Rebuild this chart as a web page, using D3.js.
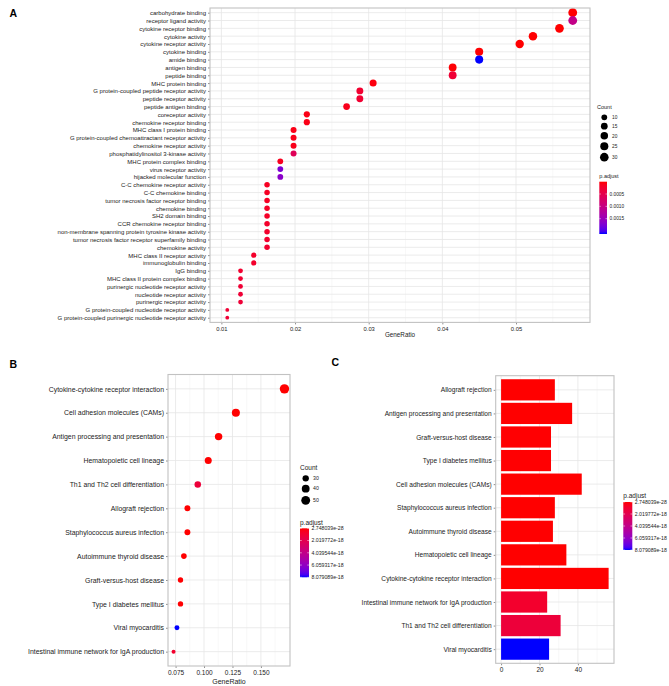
<!DOCTYPE html>
<html>
<head>
<meta charset="utf-8">
<script src="https://cdn.jsdelivr.net/npm/d3@7"></script>
<style>
  body { margin: 0; background: #fff; }
  text { font-family: "Liberation Sans", Arial, sans-serif; fill: #222; }
</style>
</head>
<body>
<div id="chart"></div>
<script>
// ---- panel A : GO enrichment ----
const goTerms = [
  "carbohydrate binding", "receptor ligand activity", "cytokine receptor binding",
  "cytokine activity", "cytokine receptor activity", "cytokine binding", "amide binding",
  "antigen binding", "peptide binding", "MHC protein binding",
  "G protein-coupled peptide receptor activity", "peptide receptor activity",
  "peptide antigen binding", "coreceptor activity", "chemokine receptor binding",
  "MHC class I protein binding", "G protein-coupled chemoattractant receptor activity",
  "chemokine receptor activity", "phosphatidylinositol 3-kinase activity",
  "MHC protein complex binding", "virus receptor activity", "hijacked molecular function",
  "C-C chemokine receptor activity", "C-C chemokine binding",
  "tumor necrosis factor receptor binding", "chemokine binding", "SH2 domain binding",
  "CCR chemokine receptor binding", "non-membrane spanning protein tyrosine kinase activity",
  "tumor necrosis factor receptor superfamily binding", "chemokine activity",
  "MHC class II receptor activity", "immunoglobulin binding", "IgG binding",
  "MHC class II protein complex binding", "purinergic nucleotide receptor activity",
  "nucleotide receptor activity", "purinergic receptor activity",
  "G protein-coupled nucleotide receptor activity",
  "G protein-coupled purinergic nucleotide receptor activity"
];
const goRatio = [
  0.0577, 0.0577, 0.0559, 0.0523, 0.0505, 0.0450, 0.0450, 0.0414, 0.0414, 0.0306,
  0.0288, 0.0288, 0.0270, 0.0216, 0.0216, 0.0198, 0.0198, 0.0198, 0.0198, 0.0180,
  0.0180, 0.0180, 0.0162, 0.0162, 0.0162, 0.0162, 0.0162, 0.0162, 0.0162, 0.0162,
  0.0162, 0.0144, 0.0144, 0.0126, 0.0126, 0.0126, 0.0126, 0.0126, 0.0108, 0.0108
];
const goCount = [
  32, 32, 31, 29, 28, 25, 25, 23, 23, 17,
  16, 16, 15, 12, 12, 11, 11, 11, 11, 10,
  10, 10, 9, 9, 9, 9, 9, 9, 9, 9,
  9, 8, 8, 7, 7, 7, 7, 7, 6, 6
];
const goPadj = [
  0.0000012, 0.00105, 0.000002, 0.000003, 0.000005, 0.000008, 0.00212, 0.00002, 0.00030, 0.00005,
  0.00026, 0.00028, 0.00012, 0.00008, 0.00009, 0.00009, 0.00010, 0.00011, 0.00060, 0.00014,
  0.00175, 0.00165, 0.00016, 0.00017, 0.00018, 0.00019, 0.00020, 0.00022, 0.00024, 0.00025,
  0.00026, 0.00022, 0.00023, 0.00026, 0.00028, 0.00030, 0.00031, 0.00032, 0.00029, 0.00030
];
const goXTicks = [0.01, 0.02, 0.03, 0.04, 0.05];
const goXMinor = [0.015, 0.025, 0.035, 0.045, 0.055];
const goSizeTicks = [10, 15, 20, 25, 30];
const goColorTicks = [0.0005, 0.0010, 0.0015];

// ---- panel B : KEGG dot plot ----
const keggTerms = [
  "Cytokine-cytokine receptor interaction", "Cell adhesion molecules (CAMs)",
  "Antigen processing and presentation", "Hematopoietic cell lineage",
  "Th1 and Th2 cell differentiation", "Allograft rejection",
  "Staphylococcus aureus infection", "Autoimmune thyroid disease",
  "Graft-versus-host disease", "Type I diabetes mellitus", "Viral myocarditis",
  "Intestinal immune network for IgA production"
];
const keggRatio = [0.1707, 0.1280, 0.1128, 0.1037, 0.0945, 0.0854, 0.0854, 0.0823, 0.0793, 0.0793, 0.0762, 0.0732];
const keggCount = [56, 42, 37, 34, 31, 28, 28, 27, 26, 26, 25, 24];
const keggPadj = [
  2.748039e-28, 1.0e-26, 5.0e-24, 2.0e-22, 1.3e-18, 3.0e-21,
  4.0e-21, 8.0e-21, 2.0e-20, 3.0e-20, 8.079089e-18, 0.9e-18
];
const keggXTicks = [0.075, 0.100, 0.125, 0.150];
const keggXMinor = [0.0875, 0.1125, 0.1375, 0.1625];
const keggSizeTicks = [30, 40, 50];
const keggColorTicks = [2.748039e-28, 2.019772e-18, 4.039544e-18, 6.059317e-18, 8.079089e-18];

// ---- panel C : KEGG bar plot (same terms, other order) ----
const barTerms = [
  "Allograft rejection", "Antigen processing and presentation", "Graft-versus-host disease",
  "Type I diabetes mellitus", "Cell adhesion molecules (CAMs)", "Staphylococcus aureus infection",
  "Autoimmune thyroid disease", "Hematopoietic cell lineage",
  "Cytokine-cytokine receptor interaction", "Intestinal immune network for IgA production",
  "Th1 and Th2 cell differentiation", "Viral myocarditis"
];
const barXTicks = [0, 20, 40];
const barXMinor = [10, 30, 50];

const W = 669, H = 686;
const gridMajor = "#e6e6e6", gridMinor = "#f3f3f3", borderCol = "#c2c2c2";

const svg = d3.select("#chart").append("svg")
  .attr("width", W).attr("height", H)
  .style("background", "#fff");

function colorScale(dom) {
  return d3.scaleLinear().domain(dom).range(["#ff0000", "#0000ff"]).interpolate(d3.interpolateLab);
}
// ggplot-like area scale: radius grows with sqrt of rescaled value
function sizeScale(dom, range) {
  const n = d3.scaleLinear().domain(dom).range([0, 1]).clamp(true);
  return v => range[0] + (range[1] - range[0]) * Math.sqrt(n(v));
}
function expand(ext, f) {
  const d = (ext[1] - ext[0]) * f;
  return [ext[0] - d, ext[1] + d];
}

function frame(g, box, x, y, terms, xTicks, xMinor, fmt, opt) {
  g.append("g").selectAll("line.minor").data(xMinor.filter(v => x(v) > box.x0 && x(v) < box.x1))
    .join("line").attr("x1", d => x(d)).attr("x2", d => x(d))
    .attr("y1", box.y0).attr("y2", box.y1).attr("stroke", gridMinor).attr("stroke-width", 0.6);
  g.append("g").selectAll("line.maj").data(xTicks)
    .join("line").attr("x1", d => x(d)).attr("x2", d => x(d))
    .attr("y1", box.y0).attr("y2", box.y1).attr("stroke", gridMajor).attr("stroke-width", 0.8);
  g.append("g").selectAll("line.row").data(terms)
    .join("line").attr("x1", box.x0).attr("x2", box.x1)
    .attr("y1", d => y(d)).attr("y2", d => y(d)).attr("stroke", gridMajor).attr("stroke-width", 0.8);

  // y axis labels
  const ya = g.append("g").attr("transform", `translate(${box.x0},0)`)
    .call(d3.axisLeft(y).tickSize(2).tickPadding(2));
  ya.select(".domain").remove();
  ya.selectAll(".tick line").attr("stroke", "#444").attr("stroke-width", 0.6);
  ya.selectAll(".tick text").attr("font-size", opt.labelSize).attr("fill", "#222");

  // x axis
  const xa = g.append("g").attr("transform", `translate(0,${box.y1})`)
    .call(d3.axisBottom(x).tickValues(xTicks).tickFormat(fmt).tickSize(2).tickPadding(2));
  xa.select(".domain").remove();
  xa.selectAll(".tick line").attr("stroke", "#444").attr("stroke-width", 0.6);
  xa.selectAll(".tick text").attr("font-size", opt.tickSize).attr("fill", "#333");

  if (opt.xTitle) {
    g.append("text").attr("x", (box.x0 + box.x1) / 2).attr("y", opt.xTitleY)
      .attr("text-anchor", "middle").attr("font-size", opt.xTitleSize).text(opt.xTitle);
  }
}

function border(g, box) {
  g.append("rect").attr("x", box.x0).attr("y", box.y0)
    .attr("width", box.x1 - box.x0).attr("height", box.y1 - box.y0)
    .attr("fill", "none").attr("stroke", borderCol).attr("stroke-width", 1.1);
}

function colorBar(g, id, color, ticks, fmt, lg) {
  const dom = color.domain();
  const grad = svg.append("defs").append("linearGradient").attr("id", id)
    .attr("x1", 0).attr("x2", 0).attr("y1", 0).attr("y2", 1);
  d3.range(0, 1.0001, 0.05).forEach(t => {
    grad.append("stop").attr("offset", t).attr("stop-color", color(dom[0] + t * (dom[1] - dom[0])));
  });
  g.append("text").attr("x", lg.x).attr("y", lg.titleY).attr("font-size", lg.titleSize).text("p.adjust");
  g.append("rect").attr("x", lg.x).attr("y", lg.y0).attr("width", lg.w).attr("height", lg.y1 - lg.y0)
    .attr("fill", `url(#${id})`);
  const ys = d3.scaleLinear().domain(dom).range([lg.y0, lg.y1]);
  ticks.forEach(v => {
    const yy = ys(v);
    g.append("line").attr("x1", lg.x).attr("x2", lg.x + lg.w * 0.2).attr("y1", yy).attr("y2", yy)
      .attr("stroke", "#fff").attr("stroke-width", 0.5);
    g.append("line").attr("x1", lg.x + lg.w * 0.8).attr("x2", lg.x + lg.w).attr("y1", yy).attr("y2", yy)
      .attr("stroke", "#fff").attr("stroke-width", 0.5);
    g.append("text").attr("x", lg.x + lg.w + 2.5).attr("y", yy).attr("dy", "0.35em")
      .attr("font-size", lg.labelSize).attr("fill", "#333").text(fmt(v));
  });
}

function sizeLegend(g, ticks, r, lg) {
  g.append("text").attr("x", lg.x).attr("y", lg.titleY).attr("font-size", lg.titleSize).text("Count");
  let yy = lg.y0;
  ticks.forEach((v, i) => {
    if (i > 0) yy += r(ticks[i - 1]) + r(v) + lg.gap;
    g.append("circle").attr("cx", lg.cx).attr("cy", yy).attr("r", r(v)).attr("fill", "#000");
    g.append("text").attr("x", lg.labelX).attr("y", yy).attr("dy", "0.35em")
      .attr("font-size", lg.labelSize).attr("fill", "#333").text(v);
  });
}

function dotPanel(cfg) {
  const g = svg.append("g");
  const box = cfg.box;
  const x = d3.scaleLinear().domain(expand(d3.extent(cfg.ratio), 0.05)).range([box.x0, box.x1]);
  const y = d3.scalePoint().domain(cfg.terms).range([box.y0, box.y1]).padding(0.6);
  const color = colorScale(d3.extent(cfg.padj));
  const r = sizeScale(d3.extent(cfg.count), cfg.rRange);

  frame(g, box, x, y, cfg.terms, cfg.xTicks, cfg.xMinor, cfg.fmt, cfg.text);

  g.append("g").selectAll("circle").data(cfg.terms)
    .join("circle")
    .attr("cx", (d, i) => x(cfg.ratio[i]))
    .attr("cy", d => y(d))
    .attr("r", (d, i) => r(cfg.count[i]))
    .attr("fill", (d, i) => color(cfg.padj[i]));

  border(g, box);
  sizeLegend(g, cfg.sizeTicks, r, cfg.sizeLg);
  colorBar(g, cfg.id, color, cfg.colorTicks, cfg.colorFmt, cfg.colorLg);
}

// Panel A
dotPanel({
  id: "gA",
  terms: goTerms, ratio: goRatio, count: goCount, padj: goPadj,
  box: { x0: 210, x1: 590, y0: 8, y1: 322.4 },
  rRange: [1.9, 4.4],
  xTicks: goXTicks, xMinor: goXMinor, fmt: d3.format(".2f"),
  text: { labelSize: 6, tickSize: 5.8, xTitle: "GeneRatio", xTitleY: 336.5, xTitleSize: 6.3 },
  sizeTicks: goSizeTicks,
  sizeLg: { x: 597, titleY: 109, titleSize: 5.5, cx: 604.3, y0: 117.3, gap: 2.6, labelX: 612, labelSize: 4.8 },
  colorTicks: goColorTicks, colorFmt: d3.format(".4f"),
  colorLg: { x: 599.3, w: 7.7, y0: 181.7, y1: 234, titleY: 178, titleSize: 5.5, labelSize: 4.8 }
});

// Panel B
dotPanel({
  id: "gB",
  terms: keggTerms, ratio: keggRatio, count: keggCount, padj: keggPadj,
  box: { x0: 168, x1: 290, y0: 374.5, y1: 666 },
  rRange: [2, 4.7],
  xTicks: keggXTicks, xMinor: keggXMinor, fmt: d3.format(".3f"),
  text: { labelSize: 6.9, tickSize: 6.5, xTitle: "GeneRatio", xTitleY: 683.5, xTitleSize: 7 },
  sizeTicks: keggSizeTicks,
  sizeLg: { x: 300, titleY: 469.5, titleSize: 6.5, cx: 305.7, y0: 478.3, gap: 3.3, labelX: 313, labelSize: 5.2 },
  colorTicks: keggColorTicks, colorFmt: v => v.toExponential(6),
  colorLg: { x: 300, w: 9, y0: 528.3, y1: 577.3, titleY: 525, titleSize: 6.5, labelSize: 5.2 }
});

// Panel C
(function barPanel() {
  const g = svg.append("g");
  const box = { x0: 495.7, x1: 614, y0: 375.7, y1: 663.3 };
  const cnt = barTerms.map(t => keggCount[keggTerms.indexOf(t)]);
  const pad = barTerms.map(t => keggPadj[keggTerms.indexOf(t)]);
  const x = d3.scaleLinear().domain(expand([0, d3.max(cnt)], 0.05)).range([box.x0, box.x1]);
  const y = d3.scalePoint().domain(barTerms).range([box.y0, box.y1]).padding(0.6);
  const color = colorScale(d3.extent(keggPadj));
  const bh = y.step() * 0.9;

  frame(g, box, x, y, barTerms, barXTicks, barXMinor, d3.format("d"),
    { labelSize: 6.6, tickSize: 6.5 });

  g.append("g").selectAll("rect").data(barTerms)
    .join("rect")
    .attr("x", x(0))
    .attr("y", d => y(d) - bh / 2)
    .attr("width", (d, i) => x(cnt[i]) - x(0))
    .attr("height", bh)
    .attr("fill", (d, i) => color(pad[i]));

  border(g, box);
  colorBar(g, "gC", color, keggColorTicks, v => v.toExponential(6),
    { x: 623.3, w: 9, y0: 502, y1: 550, titleY: 498, titleSize: 6.5, labelSize: 5.2 });
})();

// panel letters
[["A", 9.5, 16.7], ["B", 9.5, 367.8], ["C", 331.5, 365.7]].forEach(([t, px, py]) => {
  svg.append("text").attr("x", px).attr("y", py).attr("font-size", 10.5)
    .attr("font-weight", "bold").style("fill", "#000").text(t);
});
</script>
</body>
</html>
